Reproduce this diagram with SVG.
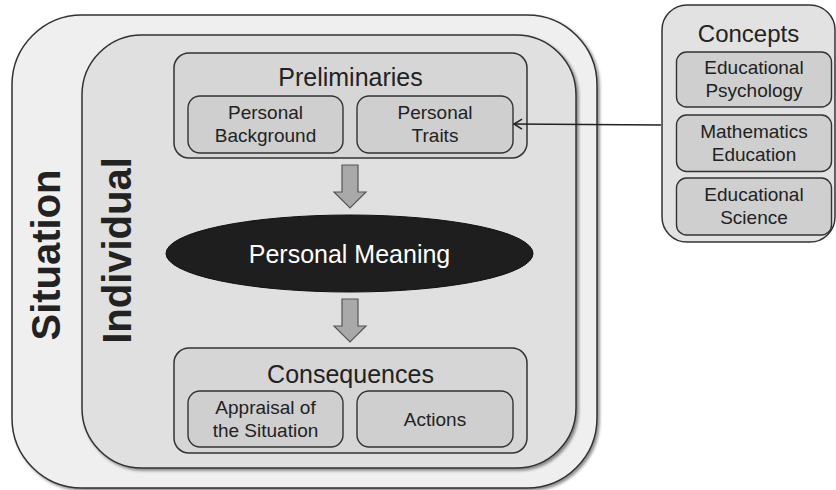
<svg xmlns="http://www.w3.org/2000/svg" width="836" height="490" viewBox="0 0 836 490">
<defs>
<filter id="sh" x="-5%" y="-5%" width="115%" height="115%">
<feDropShadow dx="2" dy="2" stdDeviation="1.5" flood-color="#000" flood-opacity="0.45"/>
</filter>
<marker id="open" markerWidth="12" markerHeight="12" refX="9" refY="6" orient="auto" markerUnits="userSpaceOnUse">
<path d="M1,1 L9,6 L1,11" fill="none" stroke="#222" stroke-width="1.5"/>
</marker>
</defs>
<style>
text{font-family:"Liberation Sans",Arial,sans-serif;fill:#222;text-anchor:middle}
.t25{font-size:25px}
.t24{font-size:24px}
.t19{font-size:19px}
.big{font-size:40px;font-weight:bold}
.box{stroke:#333;stroke-width:1.5}
.inner{fill:#cfcfcf;stroke:#333;stroke-width:1.4}
.blk{fill:#a9a9a9;stroke:#555;stroke-width:1.2}
</style>
<rect width="836" height="490" fill="#fff"/>
<g id="situation">
<rect x="12" y="15" width="585" height="473" rx="70" ry="70" fill="#efefef" class="box" filter="url(#sh)"/>
<text class="big" transform="translate(60,255) rotate(-90)">Situation</text>
</g>
<g id="individual">
<rect x="82" y="35" width="494" height="433" rx="60" ry="60" fill="#e0e0e0" class="box" filter="url(#sh)"/>
<text class="big" transform="translate(131,250.5) rotate(-90)">Individual</text>
</g>
<g id="preliminaries">
<rect x="174" y="53" width="353" height="105" rx="15" ry="15" fill="#d6d6d6" class="box"/>
<text class="t25" x="350.5" y="86">Preliminaries</text>
</g>
<g id="personal-background">
<rect x="188" y="96" width="155" height="57" rx="12" ry="12" class="inner"/>
<text class="t19" x="265.5" y="118.5">Personal</text>
<text class="t19" x="265.5" y="141.5">Background</text>
</g>
<g id="personal-traits">
<rect x="357" y="96" width="156" height="57" rx="12" ry="12" class="inner"/>
<text class="t19" x="435" y="118.5">Personal</text>
<text class="t19" x="435" y="141.5">Traits</text>
</g>
<g id="personal-meaning">
<ellipse cx="349.5" cy="253.5" rx="183.5" ry="38.5" fill="#1e1e1e" stroke="#111" stroke-width="1"/>
<text class="t25" x="349.5" y="262.5" style="fill:#fff">Personal Meaning</text>
</g>
<g id="consequences">
<rect x="174" y="348" width="353" height="105" rx="15" ry="15" fill="#d6d6d6" class="box"/>
<text class="t25" x="350.5" y="383">Consequences</text>
</g>
<g id="appraisal">
<rect x="188" y="391" width="155" height="56" rx="12" ry="12" class="inner"/>
<text class="t19" x="265.5" y="414">Appraisal of</text>
<text class="t19" x="265.5" y="437">the Situation</text>
</g>
<g id="actions">
<rect x="357" y="391" width="156" height="56" rx="12" ry="12" class="inner"/>
<text class="t19" x="435" y="426">Actions</text>
</g>
<g id="concepts">
<rect x="662" y="5" width="173" height="237" rx="25" ry="25" fill="#e2e2e2" class="box"/>
<text class="t24" x="748.5" y="42">Concepts</text>
</g>
<g id="educational-psychology">
<rect x="676.5" y="52" width="155" height="55" rx="10" ry="10" class="inner"/>
<text class="t19" x="754" y="73.5">Educational</text>
<text class="t19" x="754" y="96.5">Psychology</text>
</g>
<g id="mathematics-education">
<rect x="676.5" y="115" width="155" height="56.5" rx="10" ry="10" class="inner"/>
<text class="t19" x="754" y="137.5">Mathematics</text>
<text class="t19" x="754" y="160.5">Education</text>
</g>
<g id="educational-science">
<rect x="676.5" y="178" width="155" height="57" rx="10" ry="10" class="inner"/>
<text class="t19" x="754" y="200.5">Educational</text>
<text class="t19" x="754" y="223.5">Science</text>
</g>
<g id="connectors">
<polygon class="blk" points="342,165 358,165 358,192 366,192 350,208 334,192 342,192"/>
<polygon class="blk" points="342,299 358,299 358,326 366,326 350,342 334,326 342,326"/>
<line x1="661" y1="125" x2="514" y2="124" stroke="#222" stroke-width="1.4" marker-end="url(#open)"/>
</g>
</svg>
